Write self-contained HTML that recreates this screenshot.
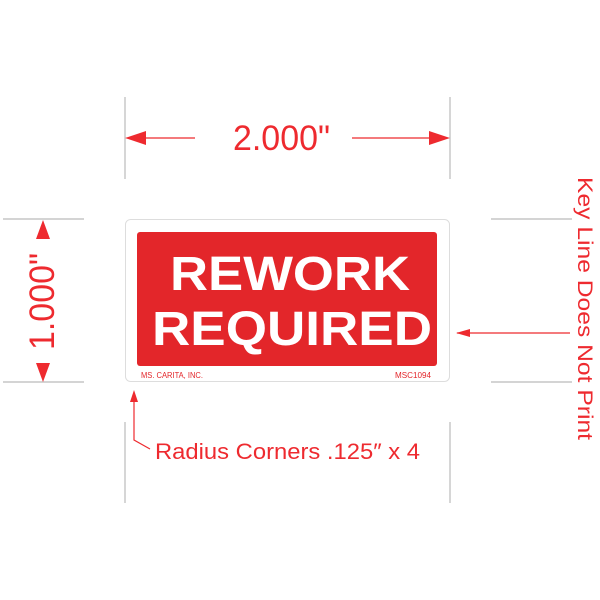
<!DOCTYPE html>
<html><head><style>
body{margin:0;background:#fff;width:600px;height:600px;overflow:hidden;font-family:"Liberation Sans",sans-serif}
</style></head><body>
<svg width="600" height="600" xmlns="http://www.w3.org/2000/svg" style="position:absolute;left:0;top:0">
<g stroke="#bbb" stroke-width="1.2">
<line x1="125" y1="97" x2="125" y2="179"/><line x1="450" y1="97" x2="450" y2="179"/>
<line x1="125" y1="422" x2="125" y2="503"/><line x1="450" y1="422" x2="450" y2="503"/>
<line x1="3" y1="219" x2="84" y2="219"/><line x1="3" y1="382" x2="84" y2="382"/>
<line x1="491" y1="219" x2="572" y2="219"/><line x1="491" y1="382" x2="572" y2="382"/>
</g>
<g stroke="#ee2a2f" stroke-width="1.2" fill="none">
<line x1="130" y1="138" x2="195" y2="138"/><line x1="352" y1="138" x2="445" y2="138"/>
<line x1="457" y1="333" x2="570" y2="333"/>
<polyline points="134,395 134,440 150,449"/>
</g>
<g fill="#ee2a2f">
<polygon points="125,138 146,131 146,145"/><polygon points="450,138 429,131 429,145"/>
<polygon points="43,220 36,239 50,239"/><polygon points="43,382 36,363 50,363"/>
<polygon points="456,333 470,329 470,337"/><polygon points="134,390 130,402 138,402"/>
</g>
<text x="233" y="150" font-size="35" fill="#ee2a2f" textLength="97" lengthAdjust="spacingAndGlyphs">2.000"</text>
<text transform="translate(54,350) rotate(-90)" font-size="35" fill="#ee2a2f" textLength="97" lengthAdjust="spacingAndGlyphs">1.000"</text>
<text transform="translate(578,177) rotate(90)" font-size="21" fill="#ee2a2f" textLength="263" lengthAdjust="spacingAndGlyphs">Key Line Does Not Print</text>
<text x="155" y="459" font-size="22" fill="#ee2a2f" textLength="265" lengthAdjust="spacingAndGlyphs">Radius Corners .125″ x 4</text>
<rect x="125.5" y="219.5" width="324" height="162" rx="5" fill="#fff" stroke="#ddd" stroke-width="1"/>
<rect x="137" y="232" width="300" height="134" rx="3" fill="#e3262a"/>
<text x="170" y="290" font-size="48" font-weight="bold" fill="#fff" textLength="240" lengthAdjust="spacingAndGlyphs">REWORK</text>
<text x="152" y="345" font-size="48" font-weight="bold" fill="#fff" textLength="280" lengthAdjust="spacingAndGlyphs">REQUIRED</text>
<text x="141" y="378" font-size="8" fill="#e3262a" textLength="62" lengthAdjust="spacingAndGlyphs">MS. CARITA, INC.</text>
<text x="395" y="378" font-size="8" fill="#e3262a" textLength="36" lengthAdjust="spacingAndGlyphs">MSC1094</text>
</svg>
</body></html>
